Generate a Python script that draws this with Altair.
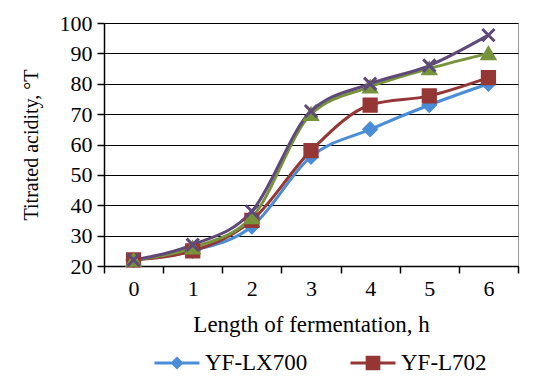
import altair as alt
import pandas as pd

hours = ["0", "1", "2", "3", "4", "5", "6"]
series_names = ["YF-LX700", "YF-L702", "YF-3", "YF-4"]
lx700 = [22, 25, 33, 56, 65, 73, 80]
l702 = [22, 25, 35, 58, 73, 76, 82]
s3 = [22, 26, 36, 70, 79, 85, 90]
s4 = [22, 27, 38, 71, 80, 86, 96]
colors = ["#4A8DD6", "#953735", "#77933C", "#5F497A"]

rows = []
for name, vals in zip(series_names, [lx700, l702, s3, s4]):
    for h, v in zip(hours, vals):
        rows.append({"hour": h, "value": v, "series": name})
df = pd.DataFrame(rows)

font = "Liberation Serif, Times New Roman, serif"

x_enc = alt.X("hour:O", sort=hours,
              scale=alt.Scale(type="band", domain=hours, paddingInner=0, paddingOuter=0),
              axis=alt.Axis(title="Length of fermentation, h", tickBand="extent",
                            labelAngle=0, grid=False, tickSize=7, labelPadding=5,
                            titlePadding=14, titleFontSize=23))
y_enc = alt.Y("value:Q", scale=alt.Scale(domain=[20, 100], nice=False, zero=False),
              axis=alt.Axis(title="Titrated acidity, °T", values=list(range(20, 101, 10)),
                            tickSize=7, labelPadding=5, titlePadding=18, titleFontSize=20))

lines = alt.Chart(df).mark_line(interpolate="monotone", strokeWidth=3).encode(
    x=x_enc, y=y_enc,
    stroke=alt.Stroke("series:N", scale=alt.Scale(domain=series_names, range=colors), legend=None),
    detail="series:N",
)

x_path = "M-1,-1L1,1M-1,1L1,-1"
points = alt.Chart(df).mark_point(filled=True, size=150, opacity=1, strokeWidth=3).encode(
    x=x_enc, y=y_enc,
    fill=alt.Fill("series:N", scale=alt.Scale(domain=series_names, range=colors), legend=None),
    stroke=alt.Stroke("series:N", scale=alt.Scale(domain=series_names, range=colors), legend=None),
    shape=alt.Shape("series:N", scale=alt.Scale(domain=series_names,
                    range=["diamond", "square", "triangle-up", x_path]), legend=None),
)

leg_paths = [
    "M-1,0L1,0M0,-0.2L0.2,0L0,0.2L-0.2,0Z",
    "M-1,0L1,0M-0.26,-0.26L0.26,-0.26L0.26,0.26L-0.26,0.26Z",
    "M-1,0L1,0M0,-0.26L0.28,0.22L-0.28,0.22Z",
    "M-1,0L1,0M-0.25,-0.25L0.25,0.25M-0.25,0.25L0.25,-0.25",
]
leg = alt.Legend(title=None, orient="none", legendX=49, legendY=316, direction="horizontal",
                 values=series_names[:2], symbolSize=2025, symbolStrokeWidth=3,
                 labelFont=font, labelFontSize=23, labelColor="black", columnPadding=36,
                 labelOffset=4, labelLimit=300, symbolOpacity=1)
legend_layer = alt.Chart(df).transform_filter("datum.value < 0").mark_point(filled=True).encode(
    x=x_enc, y=y_enc,
    fill=alt.Fill("series:N", scale=alt.Scale(domain=series_names, range=colors), legend=leg),
    stroke=alt.Stroke("series:N", scale=alt.Scale(domain=series_names, range=colors), legend=leg),
    shape=alt.Shape("series:N", scale=alt.Scale(domain=series_names, range=leg_paths), legend=leg),
)

chart = alt.layer(lines, points, legend_layer).resolve_scale(
    fill="independent", stroke="independent", shape="independent"
).properties(
    width=414, height=243,
    autosize=alt.AutoSizeParams(type="none"),
    padding={"left": 96, "top": 15, "right": 11, "bottom": 113},
).configure_view(stroke="#999999", strokeWidth=1).configure_axis(
    labelFont=font, titleFont=font, labelFontSize=22, titleFontSize=22,
    labelColor="black", titleColor="black", titleFontWeight="normal",
    domainColor="black", tickColor="black", gridColor="black", gridWidth=1,
    domainWidth=1.5, tickWidth=1.5,
)

chart.save("out.html", embed_options={"renderer": "svg", "actions": False})
